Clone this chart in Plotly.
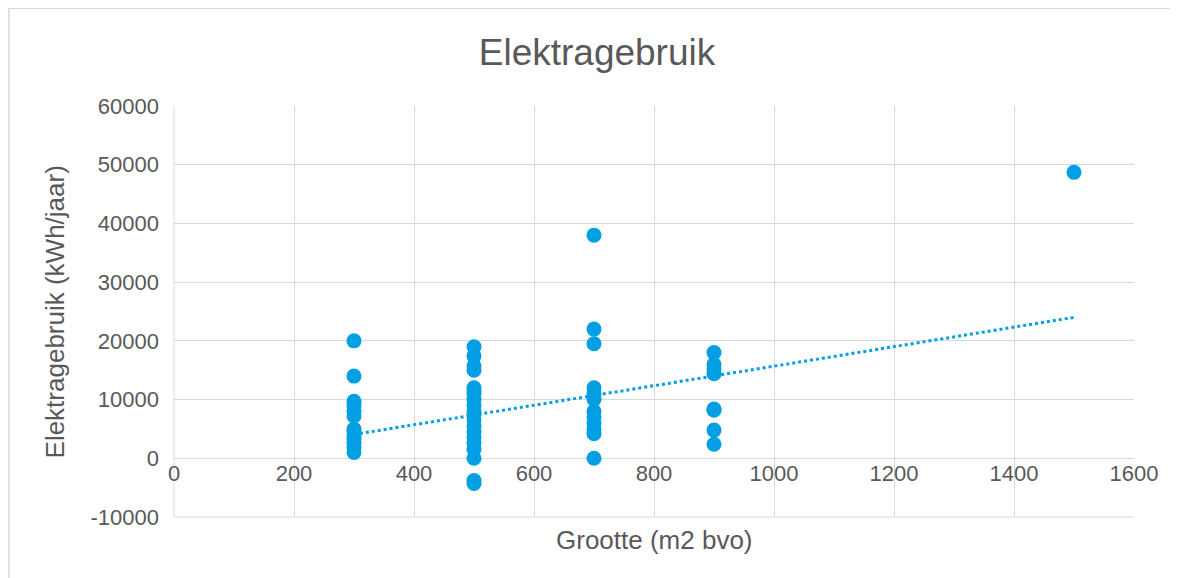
import numpy as np
import plotly.graph_objects as go

# data
size_300 = [20000, 14000, 9700, 9000, 8000, 7200, 5000, 4500, 3800, 3200, 2500, 1800, 1000]
size_500 = [19000, 17400, 15700, 15000, 12000, 11500, 11000, 10000, 9000, 8000, 7500, 6500, 5500,
            4500, 3500, 2500, 1500, 0, -3800, -4300]
size_700 = [38000, 22000, 19500, 12000, 11000, 10000, 8000, 7000, 6000, 5000, 4200, 0]
size_900 = [18000, 16000, 15200, 14400, 8400, 8200, 4800, 2400]
size_1500 = [48700]

# linear trendline as shown in the chart (endpoints)
trend_x = [300, 1500]
trend_y = [4050, 24000]

y_tickvals = [-10000, 0, 10000, 20000, 30000, 40000, 50000, 60000]
y_ticktext = ["-10000", "0", "10000", "20000", "30000", "40000", "50000", "60000"]

groups = {300: size_300, 500: size_500, 700: size_700, 900: size_900, 1500: size_1500}
x_vals, y_vals = [], []
for k, v in groups.items():
    x_vals += [k] * len(v)
    y_vals += v

title = "Elektragebruik"
x_title = "Grootte (m2 bvo)"
y_title = "Elektragebruik (kWh/jaar)"
color = "#009fe3"
grey = "#595959"
gridc = "#d9d9d9"
font = "Liberation Sans"

fig = go.Figure()
fig.add_trace(go.Scatter(x=trend_x, y=trend_y, mode="lines",
                         line=dict(color=color, width=3, dash="dot"), hoverinfo="skip"))
fig.add_trace(go.Scatter(x=x_vals, y=y_vals, mode="markers",
                         marker=dict(color=color, size=15)))

fig.update_layout(
    width=1178, height=578,
    margin=dict(l=166, r=52, t=98, b=69),
    paper_bgcolor="white", plot_bgcolor="white",
    showlegend=False,
    font=dict(family=font, color=grey, size=22),
    title=dict(text=title, x=0.5, xanchor="center", y=0.924, yanchor="middle",
               font=dict(size=37, color=grey, family=font)),
    xaxis=dict(range=[0, 1600], dtick=200, tick0=0, showgrid=True, gridcolor=gridc,
               gridwidth=1, zeroline=False, showline=False, anchor="free", position=1/7,
               ticks="", tickfont=dict(size=22, color=grey)),
    yaxis=dict(range=[-10000, 60000], tickmode="array", tickvals=y_tickvals,
               ticktext=y_ticktext,
               showgrid=True, gridcolor=gridc,
               gridwidth=1, zeroline=True, zerolinecolor=gridc, zerolinewidth=1,
               showline=False, ticks="", ticklabelstandoff=14,
               tickfont=dict(size=22, color=grey), domain=[0, 1]),
)

fig.add_annotation(text=x_title, xref="paper", yref="paper", x=0.5, y=-0.056,
                   xanchor="center", yanchor="middle", showarrow=False,
                   font=dict(size=26, color=grey, family=font))
fig.add_annotation(text=y_title, xref="paper", yref="paper", x=-0.124, y=0.5,
                   xanchor="center", yanchor="middle", textangle=-90, showarrow=False,
                   font=dict(size=26, color=grey, family=font))

# outer chart border
fig.add_shape(type="rect", xref="paper", yref="paper", x0=-0.172, y0=-0.3, x1=1.2, y1=1.238,
              line=dict(color=gridc, width=1.5), layer="below")
# plot-area frame (left and bottom)
fig.add_shape(type="line", xref="paper", yref="paper", x0=0, x1=0, y0=0, y1=1,
              line=dict(color=gridc, width=1), layer="below")
fig.add_shape(type="line", xref="paper", yref="paper", x0=0, x1=1, y0=0, y1=0,
              line=dict(color=gridc, width=1), layer="below")

fig.write_html("out.html")
